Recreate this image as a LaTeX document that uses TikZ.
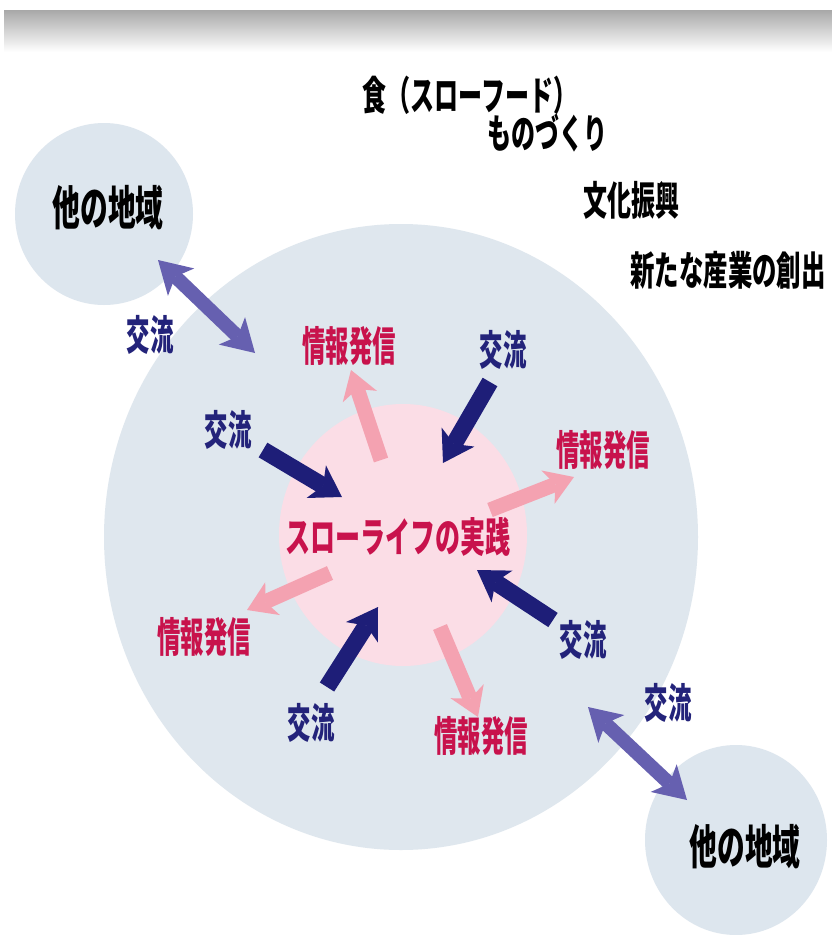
\documentclass[tikz,border=0pt]{standalone}
\usepackage{fontspec}
\usepackage{graphicx}
\newfontfamily\jp{Noto Sans CJK JP}
\usetikzlibrary{arrows.meta}
\definecolor{bigc}{HTML}{DFE7EE}
\definecolor{smallc}{HTML}{DDE6EE}
\definecolor{pinkc}{HTML}{FBDDE6}
\definecolor{navyarr}{HTML}{1E1E78}
\definecolor{pinkarr}{HTML}{F4A2B1}
\definecolor{purparr}{HTML}{6660B0}
\definecolor{navytxt}{HTML}{23237A}
\definecolor{redtxt}{HTML}{C8124C}
\newcommand{\cnd}[2]{\scalebox{#1}[1]{#2}}
\tikzset{
  kouryu/.style={text=navytxt, font={\jp\bfseries\fontsize{41}{41}\selectfont}, inner sep=0pt},
  joho/.style={text=redtxt, font={\jp\bfseries\fontsize{41}{41}\selectfont}, inner sep=0pt},
  blk/.style={text=black, font={\jp\bfseries\fontsize{40}{40}\selectfont}, inner sep=0pt},
  region/.style={text=black, font={\jp\bfseries\fontsize{47}{47}\selectfont}, inner sep=0pt},
  center/.style={text=redtxt, font={\jp\bfseries\fontsize{41}{41}\selectfont}, inner sep=0pt},
  inarrow/.style={draw=navyarr, line width=17pt, -{Stealth[length=30pt,width=38pt,inset=8pt,line width=0pt]}},
  outarrow/.style={draw=pinkarr, line width=15pt, -{Stealth[length=28pt,width=36pt,inset=8pt,line width=0pt]}},
  dblarrow/.style={draw=purparr, line width=14pt, {Stealth[length=32pt,width=38pt,inset=8pt,line width=0pt]}-{Stealth[length=32pt,width=38pt,inset=8pt,line width=0pt]}},
}
\begin{document}
\begin{tikzpicture}[x=1pt,y=-1pt]
\useasboundingbox (0,0) rectangle (832,935);
\fill[white] (0,0) rectangle (832,935);
% top band
\shade[top color=black!34, bottom color=white] (4,10) rectangle (832,52);
% circles
\fill[bigc] (401,537) ellipse [x radius=297, y radius=313];
\fill[smallc] (104,214) ellipse [x radius=89, y radius=91];
\fill[smallc] (736,840) ellipse [x radius=91, y radius=95];
\fill[pinkc] (403,535) ellipse [x radius=124, y radius=131];
% arrow end points
\coordinate (d1a) at (158,260); \coordinate (d1b) at (255,353);
\coordinate (d2a) at (588,707); \coordinate (d2b) at (687,800);
\coordinate (n1t) at (490,382); \coordinate (n1h) at (443,463);
\coordinate (n2t) at (263,450); \coordinate (n2h) at (342,497);
\coordinate (n3t) at (553,620); \coordinate (n3h) at (477,570);
\coordinate (n4t) at (327,687); \coordinate (n4h) at (378,607);
\coordinate (p1t) at (381,460); \coordinate (p1h) at (351,370);
\coordinate (p2t) at (490,510); \coordinate (p2h) at (574,477);
\coordinate (p3t) at (330,573); \coordinate (p3h) at (247,610);
\coordinate (p4t) at (440,627); \coordinate (p4h) at (478,717);
% arrows
\draw[dblarrow] (d1a) -- (d1b);
\draw[dblarrow] (d2a) -- (d2b);
\draw[outarrow] (p1t) -- (p1h);
\draw[outarrow] (p2t) -- (p2h);
\draw[outarrow] (p3t) -- (p3h);
\draw[outarrow] (p4t) -- (p4h);
\draw[inarrow] (n1t) -- (n1h);
\draw[inarrow] (n2t) -- (n2h);
\draw[inarrow] (n3t) -- (n3h);
\draw[inarrow] (n4t) -- (n4h);
% top texts
\node[blk] (food) at (470,95) {\cnd{0.60}{食（スローフード）}};
\node[blk] (mono) at (547,133) {\cnd{0.60}{ものづくり}};
\node[blk] (bunka) at (631,200) {\cnd{0.60}{文化振興}};
\node[blk] (sangyo) at (728,270) {\cnd{0.61}{新たな産業の創出}};
% regions
\node[region] (r1) at (108,208) {\cnd{0.59}{他の地域}};
\node[region] (r2) at (745,847) {\cnd{0.59}{他の地域}};
% center
\node[center] (core) at (398,537) {\cnd{0.61}{スローライフの実践}};
% labels
\node[kouryu] (k1) at (150,335) {\cnd{0.57}{交流}};
\node[kouryu] (k2) at (503,350) {\cnd{0.57}{交流}};
\node[kouryu] (k3) at (228,430) {\cnd{0.57}{交流}};
\node[kouryu] (k4) at (583,640) {\cnd{0.57}{交流}};
\node[kouryu] (k5) at (311,723) {\cnd{0.57}{交流}};
\node[kouryu] (k6) at (668,703) {\cnd{0.57}{交流}};
\node[joho] (j1) at (349,346) {\cnd{0.57}{情報発信}};
\node[joho] (j2) at (603,450) {\cnd{0.57}{情報発信}};
\node[joho] (j3) at (204,637) {\cnd{0.57}{情報発信}};
\node[joho] (j4) at (481,736) {\cnd{0.57}{情報発信}};
\end{tikzpicture}
\end{document}
